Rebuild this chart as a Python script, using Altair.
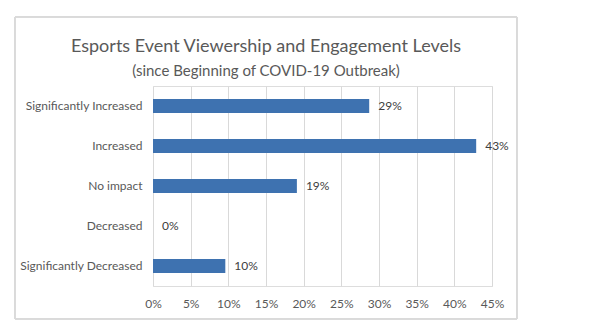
import altair as alt
import pandas as pd

categories = ["Significantly Increased", "Increased", "No impact", "Decreased", "Significantly Decreased"]
values = [0.287, 0.429, 0.191, 0.0, 0.096]
x_ticks = [0, 0.05, 0.10, 0.15, 0.20, 0.25, 0.30, 0.35, 0.40, 0.45]
title_text = "Esports Event Viewership and Engagement Levels"
subtitle_text = "(since Beginning of COVID-19 Outbreak)"

df = pd.DataFrame({"category": categories, "value": values})

FONT = "Lato"
W, H = 339, 200

x = alt.X("value:Q", scale=alt.Scale(domain=[0, 0.45], nice=False),
          axis=alt.Axis(values=x_ticks, format=".0%", title=None, domain=False, ticks=False,
                        labelPadding=12, labelFontSize=12, labelColor="#595959", labelFont=FONT,
                        labelOverlap=False, labelFlush=False,
                        grid=True, gridColor="#d9d9d9", gridWidth=1))
y = alt.Y("category:N", sort=categories,
          scale=alt.Scale(paddingInner=0.65, paddingOuter=0.325),
          axis=alt.Axis(title=None, domain=False, ticks=False, labelPadding=11,
                        labelFontSize=12, labelColor="#595959", labelFont=FONT, grid=False))

bars = alt.Chart(df).mark_bar(color="#3e72b0").encode(x=x, y=y)
labels = alt.Chart(df).mark_text(align="left", dx=9, fontSize=12, color="#404040", font=FONT).encode(
    x=x, y=y, text=alt.Text("value:Q", format=".0%"))

frame = alt.Chart(df).mark_rect(fill=None, stroke="#d9d9d9", strokeWidth=1).encode(
    x=alt.value(-138), x2=alt.value(364), y=alt.value(-69), y2=alt.value(233))

title = alt.Chart(pd.DataFrame({"t": [title_text]})).mark_text(
    font=FONT, fontSize=18, color="#595959", align="center", baseline="alphabetic").encode(
    text="t:N", x=alt.value(113), y=alt.value(-34))
subtitle = alt.Chart(pd.DataFrame({"t": [subtitle_text]})).mark_text(
    font=FONT, fontSize=15, color="#595959", align="center", baseline="alphabetic").encode(
    text="t:N", x=alt.value(113), y=alt.value(-10))

chart = alt.layer(frame, bars, labels, title, subtitle).properties(
    width=W, height=H,
    autosize=alt.AutoSizeParams(type="none"),
    padding={"left": 153, "top": 86, "right": 110, "bottom": 50},
).configure_view(stroke=None).configure(background="white")

chart.save("out.html", embed_options={"renderer": "svg", "actions": False})
